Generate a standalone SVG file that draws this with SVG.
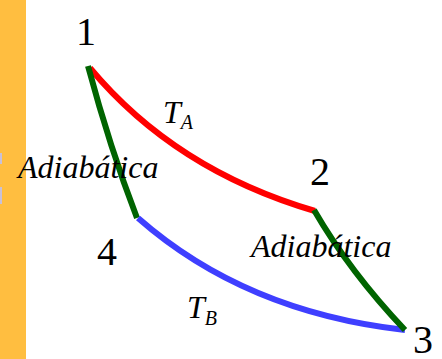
<svg xmlns="http://www.w3.org/2000/svg" width="442" height="359" viewBox="0 0 442 359">
<style>
.c{fill:none;stroke-width:6;stroke-linecap:butt}
text{font-family:'Liberation Serif','Times New Roman','DejaVu Serif',serif;fill:#000}
.n{font-size:40px}
.l{font-style:italic;font-size:32px}
.s{font-style:italic;font-size:20px}
</style>
<rect x="0" y="0" width="442" height="359" fill="#fff"/>
<rect x="0" y="0" width="26" height="359" fill="#FFBE40"/>
<rect x="0" y="153" width="2" height="11" fill="#C8C0D8"/>
<rect x="0" y="187" width="2" height="17" fill="#C8C0D8"/>
<g id="connectors">
<path class="c" stroke="#FF0000" d="M90,68 Q175,170 315,211"/>
<path class="c" stroke="#006400" d="M88,66 Q110,148 137,218"/>
<path class="c" stroke="#3F3FFF" d="M138,218 Q245,312 405,330"/>
<path class="c" stroke="#006400" d="M314,210 Q350,272 405,330"/>
</g>
<g id="node1"><text class="n" x="76" y="45" font-family="Liberation Serif, serif">1</text></g>
<g id="node2"><text class="n" x="310" y="185" font-family="Liberation Serif, serif">2</text></g>
<g id="node3"><text class="n" x="413" y="353" font-family="Liberation Serif, serif">3</text></g>
<g id="node4"><text class="n" x="97" y="265" font-family="Liberation Serif, serif">4</text></g>
<g id="labels">
<text class="l" x="18" y="178" font-family="Liberation Serif, serif">Adiabática</text>
<text class="l" x="251" y="257" font-family="Liberation Serif, serif">Adiabática</text>
<text class="l" x="163" y="123" font-family="Liberation Serif, serif">T<tspan class="s" dy="6">A</tspan></text>
<text class="l" x="187" y="318" font-family="Liberation Serif, serif">T<tspan class="s" dy="7">B</tspan></text>
</g>
</svg>
